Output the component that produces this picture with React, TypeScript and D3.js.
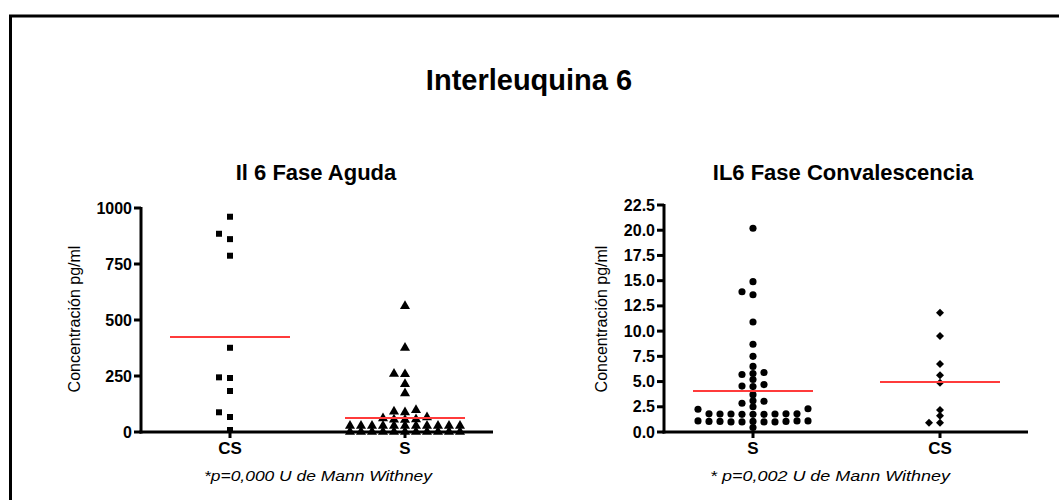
import * as d3 from "d3";

// Fase aguda (pg/ml)
const agudaCats = ["CS", "S"];
const agudaCS = [961, 885, 861, 787, 376, 244, 241, 183, 88, 67, 9];
const agudaS = [
  562, 376, 260, 258, 214, 173, 98, 91, 88, 65, 61, 57, 55, 54,
  28, 28, 28, 28, 28, 28, 28, 28, 28, 28, 28,
  1, 1, 1, 1, 1, 1, 1, 1, 1, 1, 1,
];
const agudaMeans = [424, 62];
const agudaTicks = [0, 250, 500, 750, 1000];

// Fase convalescencia (pg/ml)
const convCats = ["S", "CS"];
const convS = [
  20.2, 14.9, 13.9, 13.6, 10.9, 8.7, 7.5, 6.5, 5.9, 5.8, 5.7, 5.2, 4.7, 4.55,
  4.5, 3.7, 3.1, 3.05, 2.85, 2.5, 2.3, 2.25,
  1.8, 1.75, 1.78, 1.8, 1.75, 1.78, 1.8, 1.75, 1.78,
  1.05, 1.0, 1.1, 1.05, 1.0, 1.1, 1.05, 1.0, 1.1, 1.05, 1.0,
  0.45,
];
const convCS = [11.83, 9.51, 6.74, 5.62, 4.89, 2.18, 1.62, 0.92, 0.92];
const convMeans = [4.06, 4.96];
const convTicks = [0, 2.5, 5, 7.5, 10, 12.5, 15, 17.5, 20, 22.5];

const FONT = "'Liberation Sans', Arial, Helvetica, sans-serif";
const STEP = 11; // horizontal spacing of spread points
const THR = 5.6; // vertical overlap threshold in px

// spread overlapping points sideways in columns (GraphPad style)
function dodge(values: number[], y: (v: number) => number) {
  const order = values.map((_, i) => i).sort((a, b) => values[a] - values[b]);
  const placed: { col: number; py: number }[] = [];
  const cols: number[] = new Array(values.length).fill(0);
  for (const i of order) {
    const py = y(values[i]);
    for (let k = 0; k < 40; k++) {
      const c = k === 0 ? 0 : k % 2 ? -Math.ceil(k / 2) : k / 2;
      if (!placed.some((p) => p.col === c && Math.abs(p.py - py) < THR)) {
        cols[i] = c;
        placed.push({ col: c, py });
        break;
      }
    }
  }
  return cols;
}

type Series = { values: number[]; symbol: d3.SymbolType; size: number; rotate?: number };

type PanelProps = {
  title: string;
  note: string;
  cats: string[];
  series: Series[];
  means: number[];
  ticks: number[];
  tickFmt: (v: number) => string;
  domain: [number, number];
  x0: number;
  x1: number;
  yTop: number;
  titleX: number;
  labelX: number;
  noteX: number;
  noteLen: number;
};

function Panel(p: PanelProps) {
  const yBase = 432;
  const y = d3.scaleLinear().domain(p.domain).range([yBase, p.yTop]);
  const x = d3
    .scalePoint<string>()
    .domain(p.cats)
    .range([p.x0 + 89, p.x1 - 88]);

  return (
    <g>
      <text x={p.titleX} y={180} textAnchor="middle" fontFamily={FONT} fontWeight="bold" fontSize={22}>
        {p.title}
      </text>
      {/* y axis */}
      <line x1={p.x0} x2={p.x0} y1={p.yTop - 1} y2={yBase + 1.5} stroke="#000" strokeWidth={3} />
      {p.ticks.map((t) => (
        <g key={t}>
          <line x1={p.x0 - 7} x2={p.x0} y1={y(t)} y2={y(t)} stroke="#000" strokeWidth={3} />
          <text
            x={p.x0 - 9}
            y={y(t) + 5.5}
            textAnchor="end"
            fontFamily={FONT}
            fontWeight="bold"
            fontSize={16}
          >
            {p.tickFmt(t)}
          </text>
        </g>
      ))}
      <text
        transform={`translate(${p.labelX},319) rotate(-90)`}
        textAnchor="middle"
        fontFamily={FONT}
        fontSize={16}
      >
        Concentración pg/ml
      </text>
      {/* x axis */}
      <line x1={p.x0 - 1.5} x2={p.x1} y1={yBase} y2={yBase} stroke="#000" strokeWidth={3} />
      {p.cats.map((c) => (
        <g key={c}>
          <line x1={x(c)} x2={x(c)} y1={yBase} y2={yBase + 6} stroke="#000" strokeWidth={3} />
          <text x={x(c)} y={454} textAnchor="middle" fontFamily={FONT} fontWeight="bold" fontSize={17}>
            {c}
          </text>
        </g>
      ))}
      {/* points */}
      {p.series.map((s, si) => {
        const cols = dodge(s.values, y);
        const path = d3.symbol(s.symbol, s.size)() ?? "";
        const cx = x(p.cats[si]) ?? 0;
        return s.values.map((v, i) => (
          <path
            key={`${si}-${i}`}
            d={path}
            fill="#000"
            transform={`translate(${cx + cols[i] * STEP},${y(v)})${s.rotate ? ` rotate(${s.rotate})` : ""}`}
          />
        ));
      })}
      {/* mean lines */}
      {p.means.map((m, i) => {
        const cx = x(p.cats[i]) ?? 0;
        return (
          <line key={i} x1={cx - 60} x2={cx + 60} y1={y(m)} y2={y(m)} stroke="#ff3b3b" strokeWidth={2} />
        );
      })}
      <text
        x={p.noteX}
        y={481}
        textAnchor="middle"
        fontFamily={FONT}
        fontStyle="italic"
        fontSize={14}
        textLength={p.noteLen}
        lengthAdjust="spacingAndGlyphs"
      >
        {p.note}
      </text>
    </g>
  );
}

export default function App() {
  return (
    <svg
      width={1059}
      height={500}
      style={{ position: "absolute", left: 0, top: 0, background: "#fff" }}
    >
      <rect x={0} y={0} width={1059} height={500} fill="#fff" />
      <rect x={10.5} y={16} width={1100} height={600} fill="none" stroke="#000" strokeWidth={3} />
      <text x={529} y={90} textAnchor="middle" fontFamily={FONT} fontWeight="bold" fontSize={29}>
        Interleuquina 6
      </text>
      <Panel
        title="Il 6 Fase Aguda"
        note="*p=0,000 U de Mann Withney"
        cats={agudaCats}
        series={[
          { values: agudaCS, symbol: d3.symbolSquare, size: 36 },
          { values: agudaS, symbol: d3.symbolTriangle, size: 44 },
        ]}
        means={agudaMeans}
        ticks={agudaTicks}
        tickFmt={(v) => String(v)}
        domain={[0, 1000]}
        x0={141}
        x1={493}
        yTop={208}
        titleX={316}
        labelX={80}
        noteX={318}
        noteLen={228}
      />
      <Panel
        title="IL6 Fase Convalescencia"
        note="* p=0,002 U de Mann Withney"
        cats={convCats}
        series={[
          { values: convS, symbol: d3.symbolCircle, size: 40 },
          { values: convCS, symbol: d3.symbolSquare, size: 32, rotate: 45 },
        ]}
        means={convMeans}
        ticks={convTicks}
        tickFmt={d3.format(".1f")}
        domain={[0, 22.5]}
        x0={664}
        x1={1028}
        yTop={205}
        titleX={843}
        labelX={607}
        noteX={830}
        noteLen={240}
      />
    </svg>
  );
}
